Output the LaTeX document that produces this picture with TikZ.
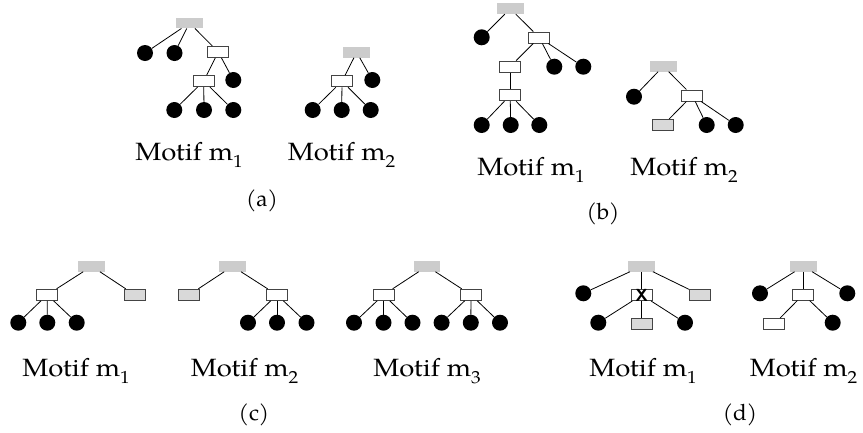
\documentclass[tikz,border=0pt]{standalone}
\usepackage{graphicx}
\usepackage{fontspec}
\setmainfont{TeX Gyre Pagella}
\definecolor{rootgray}{HTML}{CCCCCC}
\definecolor{boxgray}{HTML}{D9D9D9}
\definecolor{bordergray}{HTML}{444444}
\newcommand\motiftext[1]{\scalebox{1.1}[1]{Motif m\raisebox{-0.3em}{\fontsize{17.5}{18}\selectfont #1}}}
\tikzset{
  groot/.style={rectangle, fill=rootgray, minimum width=26.5pt, minimum height=10.5pt, inner sep=0pt},
  wbox/.style={rectangle, draw=bordergray, line width=1pt, fill=white, minimum width=21pt, minimum height=11pt, inner sep=0pt},
  gbox/.style={wbox, fill=boxgray},
  leaf/.style={circle, fill=black, minimum size=16pt, inner sep=0pt},
  edge/.style={draw=black, line width=0.8pt},
  mlabel/.style={anchor=base, inner sep=0pt, font=\fontsize{25}{28}\selectfont},
  caplabel/.style={anchor=base, inner sep=0pt, font=\fontsize{22.5}{26}\selectfont},
  xmark/.style={inner sep=0pt, font=\fontsize{17.5}{17.5}\selectfont\sffamily\bfseries},
}
\begin{document}
\begin{tikzpicture}[x=1pt,y=-1pt]
\useasboundingbox (0,0) rectangle (863,432);

% ---------- (a) motif m1 ----------
\node[groot] (ar) at (189.5,23) {};
\node[leaf] (ac1) at (145,53) {};
\node[leaf] (ac2) at (174.5,53) {};
\node[wbox] (ab1) at (218.3,52) {};
\node[wbox] (ab2) at (203.7,81) {};
\node[leaf] (ac3) at (233.3,80) {};
\node[leaf] (ac4) at (174.3,110) {};
\node[leaf] (ac5) at (204,110) {};
\node[leaf] (ac6) at (233.3,110) {};
\draw[edge] (ar) -- (ac1);
\draw[edge] (ar) -- (ac2);
\draw[edge] (ar) -- (ab1);
\draw[edge] (ab1) -- (ab2);
\draw[edge] (ab1) -- (ac3);
\draw[edge] (ab2) -- (ac4);
\draw[edge] (ab2) -- (ac5);
\draw[edge] (ab2) -- (ac6);
\node[mlabel] (alab1) at (189,160) {\motiftext{1}};

% ---------- (a) motif m2 ----------
\node[groot] (ar2) at (356.7,52.3) {};
\node[wbox] (ab3) at (342,81.3) {};
\node[leaf] (ac7) at (372.3,80) {};
\node[leaf] (ac8) at (312.7,110) {};
\node[leaf] (ac9) at (341.7,110) {};
\node[leaf] (ac10) at (370.7,110) {};
\draw[edge] (ar2) -- (ab3);
\draw[edge] (ar2) -- (ac7);
\draw[edge] (ab3) -- (ac8);
\draw[edge] (ab3) -- (ac9);
\draw[edge] (ab3) -- (ac10);
\node[mlabel] (alab2) at (341.5,160) {\motiftext{2}};
\node[caplabel] (acap) at (262,206) {(a)};

% ---------- (b) motif m1 ----------
\node[groot] (br) at (510.3,8.7) {};
\node[leaf] (bc1) at (481.7,37.3) {};
\node[wbox] (bb1) at (539.3,37.5) {};
\node[wbox] (bb2) at (510.2,66.5) {};
\node[leaf] (bc2) at (554.3,66.7) {};
\node[leaf] (bc3) at (583.3,66.7) {};
\node[wbox] (bb3) at (510.2,95.2) {};
\node[leaf] (bc4) at (481.7,125) {};
\node[leaf] (bc5) at (510.7,125) {};
\node[leaf] (bc6) at (539.3,125) {};
\draw[edge] (br) -- (bc1);
\draw[edge] (br) -- (bb1);
\draw[edge] (bb1) -- (bb2);
\draw[edge] (bb1) -- (bc2);
\draw[edge] (bb1) -- (bc3);
\draw[edge] (bb2) -- (bb3);
\draw[edge] (bb3) -- (bc4);
\draw[edge] (bb3) -- (bc5);
\draw[edge] (bb3) -- (bc6);
\node[mlabel] (blab1) at (531,175) {\motiftext{1}};

% ---------- (b) motif m2 ----------
\node[groot] (br2) at (663.3,66.3) {};
\node[leaf] (bd1) at (634,96.7) {};
\node[wbox] (bb4) at (692.3,95.5) {};
\node[gbox] (bg1) at (663.2,125) {};
\node[leaf] (bd2) at (706.7,125) {};
\node[leaf] (bd3) at (735.7,125) {};
\draw[edge] (br2) -- (bd1);
\draw[edge] (br2) -- (bb4);
\draw[edge] (bb4) -- (bg1);
\draw[edge] (bb4) -- (bd2);
\draw[edge] (bb4) -- (bd3);
\node[mlabel] (blab2) at (684,175) {\motiftext{2}};
\node[caplabel] (bcap) at (603,219) {(b)};

% ---------- (c) motif m1 ----------
\node[groot] (cr1) at (91.7,266.3) {};
\node[wbox] (cb1) at (47.2,294.8) {};
\node[gbox] (cg1) at (134.8,294.8) {};
\node[leaf] (cc1) at (18.3,322.7) {};
\node[leaf] (cc2) at (47.3,322.7) {};
\node[leaf] (cc3) at (76.7,322.7) {};
\draw[edge] (cr1) -- (cb1);
\draw[edge] (cr1) -- (cg1);
\draw[edge] (cb1) -- (cc1);
\draw[edge] (cb1) -- (cc2);
\draw[edge] (cb1) -- (cc3);
\node[mlabel] (clab1) at (76,376) {\motiftext{1}};

% ---------- (c) motif m2 ----------
\node[groot] (cr2) at (232.5,266.3) {};
\node[gbox] (cg2) at (189.2,294.8) {};
\node[wbox] (cb2) at (277,294.8) {};
\node[leaf] (cc4) at (248,322.7) {};
\node[leaf] (cc5) at (277,322.7) {};
\node[leaf] (cc6) at (306.5,322.7) {};
\draw[edge] (cr2) -- (cg2);
\draw[edge] (cr2) -- (cb2);
\draw[edge] (cb2) -- (cc4);
\draw[edge] (cb2) -- (cc5);
\draw[edge] (cb2) -- (cc6);
\node[mlabel] (clab2) at (244.5,376) {\motiftext{2}};

% ---------- (c) motif m3 ----------
\node[groot] (cr3) at (427,266.3) {};
\node[wbox] (cb3) at (383.5,294.8) {};
\node[wbox] (cb4) at (471,294.8) {};
\node[leaf] (cc7) at (354,322.7) {};
\node[leaf] (cc8) at (383.5,322.7) {};
\node[leaf] (cc9) at (412.5,322.7) {};
\node[leaf] (cc10) at (441.6,322.7) {};
\node[leaf] (cc11) at (470.8,322.7) {};
\node[leaf] (cc12) at (500,322.7) {};
\draw[edge] (cr3) -- (cb3);
\draw[edge] (cr3) -- (cb4);
\draw[edge] (cb3) -- (cc7);
\draw[edge] (cb3) -- (cc8);
\draw[edge] (cb3) -- (cc9);
\draw[edge] (cb4) -- (cc10);
\draw[edge] (cb4) -- (cc11);
\draw[edge] (cb4) -- (cc12);
\node[mlabel] (clab3) at (427,376) {\motiftext{3}};
\node[caplabel] (ccap) at (254,420) {(c)};

% ---------- (d) motif m1 ----------
\node[groot] (dr1) at (641.7,266.3) {};
\node[leaf] (dc1) at (583.3,293.3) {};
\node[wbox] (dx) at (641.7,295) {};
\node[xmark] (dxlab) at (641.7,295) {X};
\node[gbox] (dg1) at (700,294.7) {};
\node[leaf] (dc2) at (598.3,322.7) {};
\node[gbox] (dg2) at (641.7,324) {};
\node[leaf] (dc3) at (685,322.7) {};
\draw[edge] (dr1) -- (dc1);
\draw[edge] (dr1) -- (dx);
\draw[edge] (dr1) -- (dg1);
\draw[edge] (dx) -- (dc2);
\draw[edge] (dx) -- (dg2);
\draw[edge] (dx) -- (dc3);
\node[mlabel] (dlab1) at (643,376) {\motiftext{1}};

% ---------- (d) motif m2 ----------
\node[groot] (dr2) at (803.3,266.3) {};
\node[leaf] (dc4) at (760,293.3) {};
\node[wbox] (db1) at (803.3,294.5) {};
\node[leaf] (dc5) at (847.3,293.3) {};
\node[wbox] (db2) at (774.2,324) {};
\node[leaf] (dc6) at (832.7,322.7) {};
\draw[edge] (dr2) -- (dc4);
\draw[edge] (dr2) -- (db1);
\draw[edge] (dr2) -- (dc5);
\draw[edge] (db1) -- (db2);
\draw[edge] (db1) -- (dc6);
\node[mlabel] (dlab2) at (803.5,376) {\motiftext{2}};
\node[caplabel] (dcap) at (740,420) {(d)};
\end{tikzpicture}
\end{document}
